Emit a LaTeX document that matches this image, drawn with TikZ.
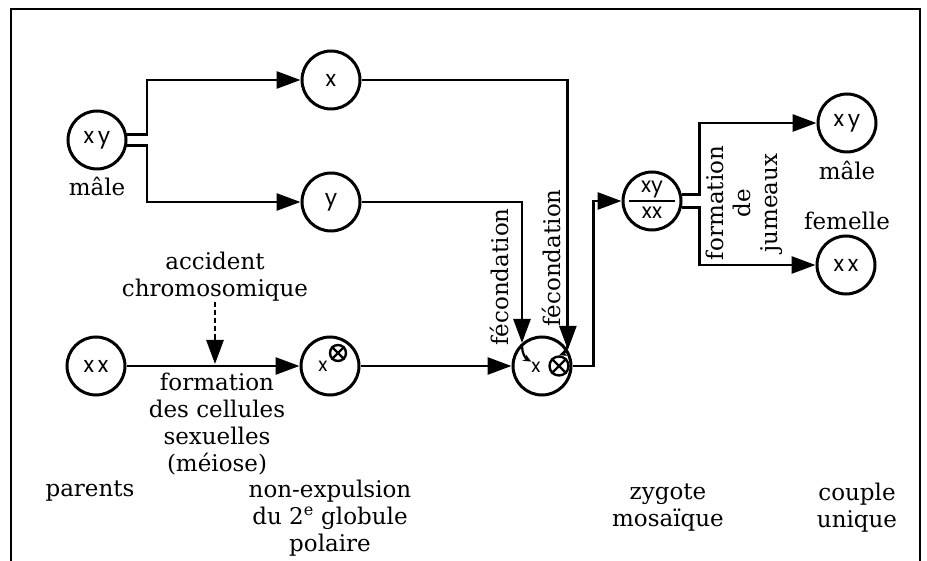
\documentclass[tikz,border=0pt]{standalone}
\usepackage{fontspec}
\setmainfont{DejaVu Serif}
\newfontfamily\circfont{Poppins}
\usetikzlibrary{arrows.meta,calc}
\begin{document}
\begin{tikzpicture}[x=1pt,y=-1pt,
  cell/.style={circle,draw,line width=3pt,minimum size=58pt,inner sep=0pt,font=\circfont\fontsize{22}{22}\selectfont},
  lbl/.style={font=\fontsize{23}{27}\selectfont,align=center,inner sep=0pt},
  arr/.style={line width=2.8pt,-{Triangle[length=24pt,width=17pt]}},
  small/.style={font=\circfont\fontsize{19}{19}\selectfont,inner sep=0pt},
  otimes/.style={circle,draw,line width=2.4pt,inner sep=0pt}]
\useasboundingbox (0,0) rectangle (927,561);
% frame
\draw[line width=2.4pt] (11,561) -- (11,9) -- (920,9) -- (920,561);
% circles
\node[cell] (xy) at (97,140) {x\,y};
\node[cell] (nx) at (331,80) {x};
\node[cell] (ny) at (331,202) {y};
\node[cell] (xx) at (96,366) {x\,x};
\node[cell] (xo) at (330,366) {};
\node[cell] (zyg) at (542,366) {};
\node[cell] (mos) at (652,201) {};
\node[cell] (male) at (847,123) {x\,y};
\node[cell] (fem) at (846,265) {x\,x};
% contents of special circles
\node[small] (xoX) at (323,366) {x};
\node[otimes,minimum size=16pt] (xoO) at (338,353) {};
\draw[line width=2.4pt] (xoO.45) -- (xoO.225) (xoO.135) -- (xoO.315);
\node[small] (zX) at (536,367) {x};
\node[otimes,minimum size=19pt] (zO) at (559,366) {};
\draw[line width=2.4pt] (zO.45) -- (zO.225) (zO.135) -- (zO.315);
\coordinate (s1) at (522,346);
\coordinate (s2) at (568,344);
\draw[line width=2.2pt,-{Stealth[length=8pt,width=7pt]}] (s1) to[bend right=30] (zX.north west);
\draw[line width=2.2pt,-{Stealth[length=8pt,width=7pt]}] (s2) to[bend left=30] (zO.north);
\node[small,font=\circfont\fontsize{21}{21}\selectfont] (mosT) at (652,189) {xy};
\node[small,font=\circfont\fontsize{21}{21}\selectfont] (mosB) at (652,213) {xx};
\draw[line width=2.4pt] ($(mos.center)+(-23,0)$) -- ($(mos.center)+(23,0)$);
% labels
\node[lbl] (male1) at (97,186) {mâle};
\node[lbl] (acc) at (215,277) {accident\\chromosomique};
\node[lbl] (form) at (217,424) {formation\\des cellules\\sexuelles\\(méiose)};
\node[lbl] (par) at (90,491) {parents};
\node[lbl] (nonexp) at (330,518) {non-expulsion\\du 2\textsuperscript{e} globule\\polaire};
\node[lbl] (zm) at (668,508) {zygote\\mosaïque};
\node[lbl] (cu) at (857,508) {couple\\unique};
\node[lbl] (male2) at (847,170) {mâle};
\node[lbl] (femt) at (847,221) {femelle};
\node[lbl,rotate=90] (fec1) at (499,277) {fécondation};
\node[lbl,rotate=90] (fec2) at (551,258) {fécondation};
\node[lbl,rotate=90] (jum) at (744,203) {formation\\de\\jumeaux};
% connectors
\draw[arr] (xy.10) -- ++(20,0) |- (nx);
\draw[arr] (xy.-10) -- ++(20,0) |- (ny);
\draw[arr] (xx) -- (xo);
\coordinate (accend) at (215,364);
\draw[line width=2.4pt,dash pattern=on 5pt off 3pt] (acc.south) -- (215,338);
\draw[arr] (215,338) -- (accend);
\draw[arr] (xo) -- (zyg);
\draw[arr] (ny.east) -| (zyg.131);
\draw[arr] (nx.east) -| (zyg.32);
\draw[arr] (zyg.east) -- ++(21,0) |- (mos);
\draw[arr] (mos.12) -- ++(18,0) |- (male);
\draw[arr] (mos.-12) -- ++(18,0) |- (fem);
\end{tikzpicture}
\end{document}
